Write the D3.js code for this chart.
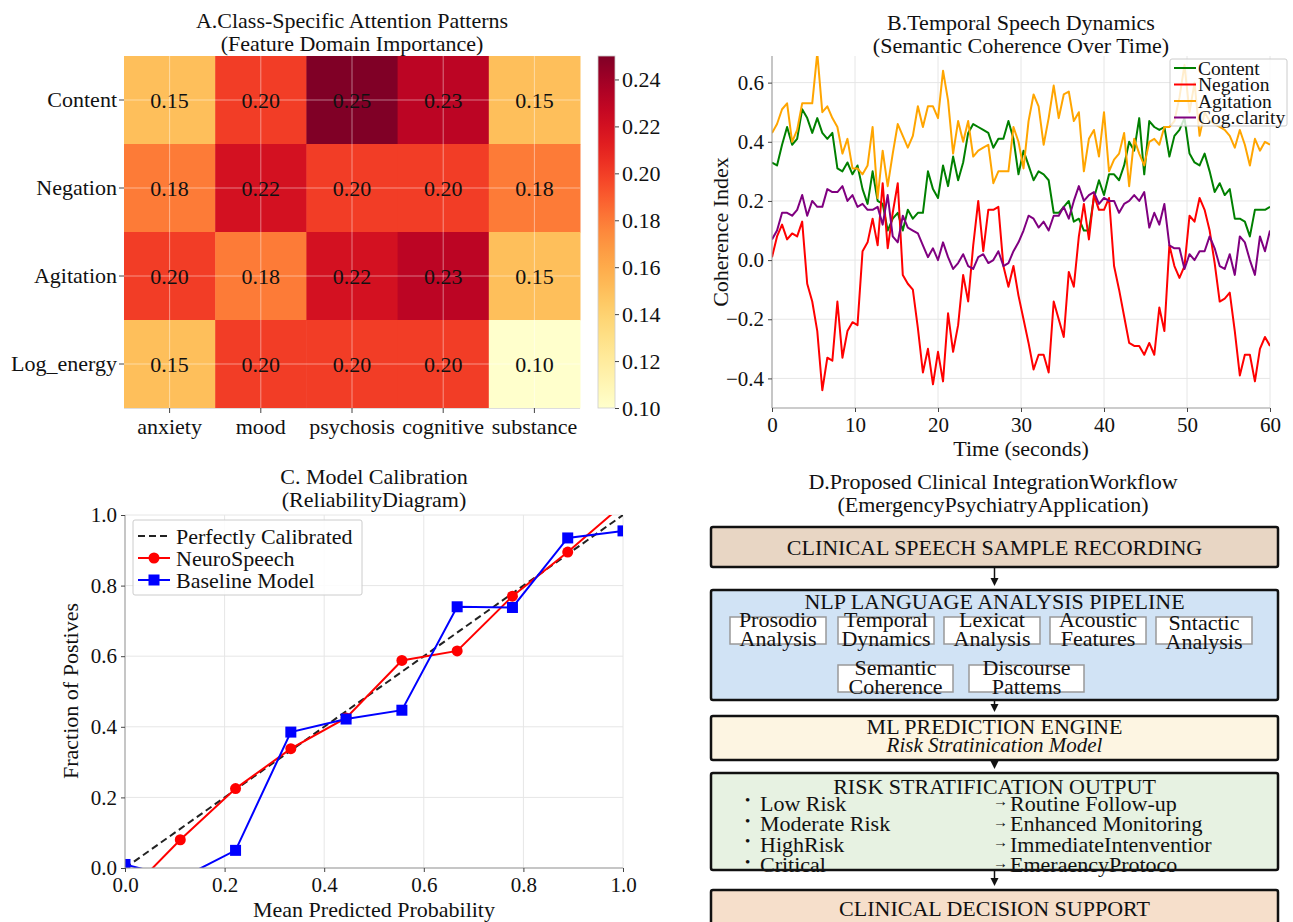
<!DOCTYPE html>
<html>
<head>
<meta charset="utf-8">
<script src="https://cdn.jsdelivr.net/npm/d3@7"></script>
<style>
  body { margin: 0; background: #fff; }
  text { font-family: "Liberation Serif", "Times New Roman", serif; fill: #111; }
</style>
</head>
<body>
<svg id="fig" width="1293" height="922"></svg>
<script>
// ---- data ----

// A: attention heatmap
const domains = ["Content", "Negation", "Agitation", "Log_energy"];
const classes = ["anxiety", "mood", "psychosis", "cognitive", "substance"];
const attention = [
  [0.15, 0.20, 0.25, 0.23, 0.15],
  [0.18, 0.22, 0.20, 0.20, 0.18],
  [0.20, 0.18, 0.22, 0.23, 0.15],
  [0.15, 0.20, 0.20, 0.20, 0.10]
];
const colorbarTicks = [0.10, 0.12, 0.14, 0.16, 0.18, 0.20, 0.22, 0.24];

// B: coherence over time (100 samples over 60 s)
const timeMax = 60;
const contentSeries = [
  0.33,0.32,0.39,0.45,0.39,0.41,0.51,0.48,0.43,0.48,
  0.43,0.41,0.43,0.31,0.30,0.33,0.29,0.32,0.24,0.19,
  0.30,0.20,0.19,0.10,0.14,0.16,0.10,0.17,0.14,0.16,
  0.16,0.30,0.24,0.21,0.32,0.25,0.35,0.27,0.33,0.43,
  0.46,0.45,0.44,0.43,0.38,0.41,0.41,0.47,0.41,0.29,
  0.37,0.32,0.27,0.30,0.29,0.27,0.16,0.16,0.18,0.20,
  0.13,0.14,0.10,0.10,0.21,0.27,0.22,0.29,0.29,0.27,
  0.32,0.40,0.37,0.48,0.29,0.47,0.45,0.44,0.45,0.35,
  0.42,0.44,0.48,0.36,0.33,0.32,0.36,0.30,0.23,0.26,
  0.22,0.24,0.14,0.14,0.13,0.08,0.17,0.17,0.17,0.18
];
const negationSeries = [
  0.01,0.08,0.12,0.07,0.09,0.08,0.13,-0.08,-0.14,-0.24,
  -0.44,-0.33,-0.34,-0.14,-0.33,-0.24,-0.21,-0.22,0.03,0.06,
  0.14,0.05,0.26,0.04,0.16,0.26,-0.05,-0.08,-0.10,-0.23,
  -0.38,-0.30,-0.42,-0.31,-0.41,-0.18,-0.31,-0.22,-0.05,-0.14,
  0.05,0.20,0.03,0.17,0.17,0.18,-0.02,-0.09,-0.02,-0.12,
  -0.20,-0.28,-0.37,-0.32,-0.32,-0.38,-0.14,-0.20,-0.26,-0.04,
  -0.09,0.08,0.19,0.07,0.22,0.17,0.17,0.21,-0.02,-0.10,
  -0.19,-0.28,-0.29,-0.29,-0.32,-0.28,-0.32,-0.16,-0.24,0.05,
  -0.02,-0.06,-0.02,0.15,0.13,0.21,0.17,0.10,-0.01,-0.14,
  -0.13,-0.11,-0.24,-0.39,-0.32,-0.32,-0.41,-0.30,-0.26,-0.29
];
const agitationSeries = [
  0.43,0.46,0.51,0.53,0.40,0.44,0.53,0.53,0.53,0.70,
  0.50,0.52,0.48,0.45,0.36,0.41,0.31,0.31,0.29,0.32,
  0.45,0.21,0.37,0.25,0.36,0.46,0.42,0.38,0.42,0.52,
  0.45,0.52,0.52,0.48,0.64,0.54,0.36,0.47,0.40,0.47,
  0.35,0.37,0.38,0.39,0.26,0.30,0.30,0.30,0.45,0.40,
  0.31,0.47,0.56,0.52,0.39,0.48,0.59,0.48,0.56,0.57,
  0.47,0.50,0.30,0.41,0.44,0.35,0.50,0.30,0.34,0.36,
  0.43,0.25,0.41,0.36,0.32,0.40,0.41,0.39,0.45,0.45,
  0.47,0.55,0.66,0.50,0.60,0.42,0.50,0.47,0.46,0.45,
  0.44,0.42,0.38,0.44,0.39,0.32,0.41,0.37,0.40,0.39
];
const claritySeries = [
  0.07,0.10,0.16,0.16,0.15,0.17,0.22,0.15,0.20,0.18,
  0.18,0.24,0.23,0.23,0.25,0.20,0.22,0.18,0.19,0.17,
  0.17,0.18,0.12,0.22,0.08,0.06,0.15,0.11,0.10,0.09,
  0.05,0.01,0.04,0.00,0.06,0.01,-0.03,-0.01,0.02,-0.02,
  -0.03,0.01,0.02,-0.01,0.00,0.03,-0.02,-0.01,0.03,0.06,
  0.10,0.15,0.14,0.11,0.13,0.10,0.15,0.15,0.18,0.14,
  0.20,0.25,0.20,0.22,0.23,0.19,0.21,0.20,0.20,0.16,
  0.19,0.20,0.22,0.20,0.23,0.11,0.16,0.12,0.19,0.05,
  0.04,0.04,-0.03,0.02,0.00,0.03,0.03,0.08,0.04,-0.02,
  -0.03,0.02,-0.05,0.08,0.06,0.00,-0.05,0.08,0.03,0.10
];
const seriesNames = ["Content", "Negation", "Agitation", "Cog.clarity"];
const seriesColors = ["#008000", "#ff0000", "#ffa500", "#800080"];
const timeTicks = [0, 10, 20, 30, 40, 50, 60];
const coherenceTicks = [-0.4, -0.2, 0.0, 0.2, 0.4, 0.6];

// C: reliability diagram
const binCenters = [0.0, 0.111, 0.222, 0.333, 0.444, 0.556, 0.667, 0.778, 0.889, 1.0];
const neuroSpeech = [-0.08, 0.08, 0.225, 0.338, 0.425, 0.588, 0.615, 0.77, 0.895, 1.03];
const baseline = [0.01, -0.03, 0.05, 0.385, 0.422, 0.447, 0.74, 0.738, 0.935, 0.955];
const calibTicks = [0.0, 0.2, 0.4, 0.6, 0.8, 1.0];

// D: workflow
const stageTitles = [
  "CLINICAL SPEECH SAMPLE RECORDING",
  "NLP LANGUAGE ANALYSIS PIPELINE",
  "ML PREDICTION ENGINE",
  "RISK STRATIFICATION OUTPUT",
  "CLINICAL DECISION SUPPORT"
];
const nlpFeatures = [
  ["Prosodio", "Analysis"], ["Temporal", "Dynamics"], ["Lexicat", "Analysis"],
  ["Acoustic", "Features"], ["Sntactic", "Analysis"],
  ["Semantic", "Coherence"], ["Discourse", "Pattems"]
];
const mlSubtitle = "Risk Stratinication Model";
const riskLevels = ["Low Risk", "Moderate Risk", "HighRisk", "Critical"];
const riskActions = ["Routine Follow-up", "Enhanced Monitoring", "ImmediateIntenventior", "EmeraencyProtoco"];

// ---- drawing ----
const FS = 22;      // main text size
const TICK = 21;    // tick label size
const svg = d3.select("#fig");
svg.append("rect").attr("width", 1293).attr("height", 922).attr("fill", "#fff");
const defs = svg.append("defs");

function twoLineTitle(cx, y1, lines) {
  lines.forEach((t, i) => {
    svg.append("text").attr("x", cx).attr("y", y1 + i * 23)
      .attr("text-anchor", "middle").attr("dominant-baseline", "central")
      .attr("font-size", FS).text(t);
  });
}

function styleAxis(g, fs) {
  g.select(".domain").remove();
  g.selectAll(".tick line").attr("stroke", "#444").attr("stroke-width", 1);
  g.selectAll(".tick text").attr("font-size", fs).attr("fill", "#111")
    .style("font-family", '"Liberation Serif","Times New Roman",serif');
}

// ---------- Panel A ----------
const hx = d3.scaleBand().domain(classes).range([124, 580]);
const hy = d3.scaleBand().domain(domains).range([56, 408]);
const heat = d3.scaleSequential(d3.interpolateYlOrRd).domain([0.10, 0.25]);

const cells = [];
domains.forEach((d, r) => classes.forEach((c, k) => cells.push({ d, c, v: attention[r][k] })));

const gA = svg.append("g");
gA.selectAll("rect.cell").data(cells).join("rect")
  .attr("x", d => hx(d.c)).attr("y", d => hy(d.d))
  .attr("width", hx.bandwidth() + 0.5).attr("height", hy.bandwidth() + 0.5)
  .attr("fill", d => heat(d.v));

// faint grid through cell centres
gA.selectAll("line.gx").data(classes).join("line")
  .attr("x1", d => hx(d) + hx.bandwidth() / 2).attr("x2", d => hx(d) + hx.bandwidth() / 2)
  .attr("y1", 56).attr("y2", 408).attr("stroke", "rgba(255,255,255,0.45)");
gA.selectAll("line.gy").data(domains).join("line")
  .attr("y1", d => hy(d) + hy.bandwidth() / 2).attr("y2", d => hy(d) + hy.bandwidth() / 2)
  .attr("x1", 124).attr("x2", 580).attr("stroke", "rgba(255,255,255,0.45)");
gA.append("line").attr("x1", 124).attr("x2", 580).attr("y1", 408.5).attr("y2", 408.5).attr("stroke", "#ddd");

gA.selectAll("text.val").data(cells).join("text")
  .attr("x", d => hx(d.c) + hx.bandwidth() / 2).attr("y", d => hy(d.d) + hy.bandwidth() / 2)
  .attr("text-anchor", "middle").attr("dominant-baseline", "central")
  .attr("font-size", FS).text(d => d3.format(".2f")(d.v));

styleAxis(svg.append("g").attr("transform", "translate(124,0)")
  .call(d3.axisLeft(hy).tickSize(5).tickPadding(2)), FS);
styleAxis(svg.append("g").attr("transform", "translate(0,408)")
  .call(d3.axisBottom(hx).tickSize(5).tickPadding(5)), FS);

// colorbar
const cbScale = d3.scaleLinear().domain([0.10, 0.25]).range([408, 56]);
const grad = defs.append("linearGradient").attr("id", "cbGrad")
  .attr("x1", 0).attr("y1", 1).attr("x2", 0).attr("y2", 0);
d3.range(0, 1.0001, 0.05).forEach(t => {
  grad.append("stop").attr("offset", t).attr("stop-color", d3.interpolateYlOrRd(t));
});
svg.append("rect").attr("x", 598).attr("y", 56).attr("width", 17).attr("height", 352)
  .attr("fill", "url(#cbGrad)").attr("stroke", "#ccc").attr("stroke-width", 0.8);
styleAxis(svg.append("g").attr("transform", "translate(615,0)")
  .call(d3.axisRight(cbScale).tickValues(colorbarTicks).tickFormat(d3.format(".2f")).tickSize(4).tickPadding(3)), FS);

twoLineTitle(352, 20, ["A.Class-Specific Attention Patterns", "(Feature Domain Importance)"]);

// ---------- Panel B ----------
const bx = d3.scaleLinear().domain([0, timeMax]).range([772, 1270]);
const by = d3.scaleLinear().domain([-0.5, 0.69]).range([408, 56]);
const gB = svg.append("g");

gB.selectAll("line.vx").data(timeTicks).join("line")
  .attr("x1", d => bx(d)).attr("x2", d => bx(d)).attr("y1", 56).attr("y2", 408)
  .attr("stroke", "#e6e6e6");
gB.selectAll("line.hy").data(coherenceTicks).join("line")
  .attr("y1", d => by(d)).attr("y2", d => by(d)).attr("x1", 772).attr("x2", 1270)
  .attr("stroke", "#e6e6e6");

defs.append("clipPath").attr("id", "clipB").append("rect")
  .attr("x", 772).attr("y", 56).attr("width", 498).attr("height", 352);

const allSeries = [contentSeries, negationSeries, agitationSeries, claritySeries];
const step = timeMax / (contentSeries.length - 1);
const lineB = d3.line().x((d, i) => bx(i * step)).y(d => by(d));
gB.append("g").attr("clip-path", "url(#clipB)")
  .selectAll("path").data(allSeries).join("path")
  .attr("d", lineB).attr("fill", "none")
  .attr("stroke", (d, i) => seriesColors[i]).attr("stroke-width", 2)
  .attr("stroke-linejoin", "round");

gB.append("line").attr("x1", 772).attr("x2", 772).attr("y1", 56).attr("y2", 408).attr("stroke", "#999");
gB.append("line").attr("x1", 772).attr("x2", 1270).attr("y1", 408).attr("y2", 408).attr("stroke", "#999");

styleAxis(svg.append("g").attr("transform", "translate(772,0)")
  .call(d3.axisLeft(by).tickValues(coherenceTicks).tickFormat(d3.format(".1f")).tickSize(4).tickPadding(4)), TICK);
styleAxis(svg.append("g").attr("transform", "translate(0,408)")
  .call(d3.axisBottom(bx).tickValues(timeTicks).tickSize(4).tickPadding(5)), TICK);

svg.append("text").attr("x", 1021).attr("y", 448).attr("text-anchor", "middle")
  .attr("dominant-baseline", "central").attr("font-size", FS).text("Time (seconds)");
svg.append("text").attr("transform", "translate(720,232) rotate(-90)").attr("text-anchor", "middle")
  .attr("dominant-baseline", "central").attr("font-size", FS).text("Coherence Index");
twoLineTitle(1021, 22, ["B.Temporal Speech Dynamics", "(Semantic Coherence Over Time)"]);

const legB = svg.append("g").attr("transform", "translate(1170,59)");
legB.append("rect").attr("width", 117).attr("height", 67).attr("rx", 2)
  .attr("fill", "rgba(255,255,255,0.8)").attr("stroke", "#ccc");
seriesNames.forEach((n, i) => {
  const yy = 9 + i * 16.5;
  legB.append("line").attr("x1", 4).attr("x2", 26).attr("y1", yy).attr("y2", yy)
    .attr("stroke", seriesColors[i]).attr("stroke-width", 2);
  legB.append("text").attr("x", 28).attr("y", yy).attr("dominant-baseline", "central")
    .attr("font-size", 19.5).text(n);
});

// ---------- Panel C ----------
const cx = d3.scaleLinear().domain([0, 1]).range([125, 623]);
const cy = d3.scaleLinear().domain([0, 1]).range([868, 515]);
const gC = svg.append("g");
gC.selectAll("line.vx").data(calibTicks).join("line")
  .attr("x1", d => cx(d)).attr("x2", d => cx(d)).attr("y1", 515).attr("y2", 868).attr("stroke", "#e6e6e6");
gC.selectAll("line.hy").data(calibTicks).join("line")
  .attr("y1", d => cy(d)).attr("y2", d => cy(d)).attr("x1", 125).attr("x2", 623).attr("stroke", "#e6e6e6");

defs.append("clipPath").attr("id", "clipC").append("rect")
  .attr("x", 125).attr("y", 515).attr("width", 498).attr("height", 353);
const plotC = gC.append("g").attr("clip-path", "url(#clipC)");

plotC.append("line").attr("x1", cx(0)).attr("y1", cy(0)).attr("x2", cx(1)).attr("y2", cy(1))
  .attr("stroke", "#222").attr("stroke-width", 2).attr("stroke-dasharray", "7,4");

const lineC = d3.line().x((d, i) => cx(binCenters[i])).y(d => cy(d));
plotC.append("path").attr("d", lineC(neuroSpeech)).attr("fill", "none")
  .attr("stroke", "#ff0000").attr("stroke-width", 2);
plotC.selectAll("circle").data(neuroSpeech).join("circle")
  .attr("cx", (d, i) => cx(binCenters[i])).attr("cy", d => cy(d)).attr("r", 5.5).attr("fill", "#ff0000");
plotC.append("path").attr("d", lineC(baseline)).attr("fill", "none")
  .attr("stroke", "#0000ff").attr("stroke-width", 2);
plotC.selectAll("rect.sq").data(baseline).join("rect")
  .attr("x", (d, i) => cx(binCenters[i]) - 5.5).attr("y", d => cy(d) - 5.5)
  .attr("width", 11).attr("height", 11).attr("fill", "#0000ff");

gC.append("line").attr("x1", 125).attr("x2", 125).attr("y1", 515).attr("y2", 868).attr("stroke", "#999");
gC.append("line").attr("x1", 125).attr("x2", 623).attr("y1", 868).attr("y2", 868).attr("stroke", "#999");

styleAxis(svg.append("g").attr("transform", "translate(125,0)")
  .call(d3.axisLeft(cy).tickValues(calibTicks).tickFormat(d3.format(".1f")).tickSize(4).tickPadding(4)), TICK);
styleAxis(svg.append("g").attr("transform", "translate(0,868)")
  .call(d3.axisBottom(cx).tickValues(calibTicks).tickFormat(d3.format(".1f")).tickSize(4).tickPadding(5)), TICK);

svg.append("text").attr("x", 374).attr("y", 909).attr("text-anchor", "middle")
  .attr("dominant-baseline", "central").attr("font-size", FS).text("Mean Predicted Probability");
svg.append("text").attr("transform", "translate(70,691) rotate(-90)").attr("text-anchor", "middle")
  .attr("dominant-baseline", "central").attr("font-size", FS).text("Fraction of Postives");
twoLineTitle(374, 476, ["C. Model Calibration", "(ReliabilityDiagram)"]);

const legC = svg.append("g").attr("transform", "translate(133,520)");
legC.append("rect").attr("width", 229).attr("height", 75).attr("rx", 2)
  .attr("fill", "rgba(255,255,255,0.85)").attr("stroke", "#ccc");
const legCItems = ["Perfectly Calibrated", "NeuroSpeech", "Baseline Model"];
legCItems.forEach((n, i) => {
  const yy = 16 + i * 22;
  const ln = legC.append("line").attr("x1", 5).attr("x2", 37).attr("y1", yy).attr("y2", yy).attr("stroke-width", 2);
  if (i === 0) ln.attr("stroke", "#222").attr("stroke-dasharray", "7,4");
  if (i === 1) {
    ln.attr("stroke", "#ff0000");
    legC.append("circle").attr("cx", 21).attr("cy", yy).attr("r", 5.5).attr("fill", "#ff0000");
  }
  if (i === 2) {
    ln.attr("stroke", "#0000ff");
    legC.append("rect").attr("x", 15.5).attr("y", yy - 5.5).attr("width", 11).attr("height", 11).attr("fill", "#0000ff");
  }
  legC.append("text").attr("x", 43).attr("y", yy).attr("dominant-baseline", "central")
    .attr("font-size", FS).text(n);
});

// ---------- Panel D ----------
twoLineTitle(993, 481, ["D.Proposed Clinical IntegrationWorkflow", "(EmergencyPsychiatryApplication)"]);
const gD = svg.append("g");
const boxX = 711, boxW = 567, midX = boxX + boxW / 2;
const stageTop = [527, 590, 716, 773, 890];
const stageH = [40, 110, 44, 97, 45];
const stageTextY = [547, 601, 726, 786, 908];
const stageFill = ["#e8d6c4", "#d1e3f5", "#fdf5e2", "#e7f2e2", "#f6dfcb"];

stageTitles.forEach((t, i) => {
  gD.append("rect").attr("x", boxX).attr("y", stageTop[i]).attr("width", boxW).attr("height", stageH[i])
    .attr("rx", 2).attr("fill", stageFill[i]).attr("stroke", "#111").attr("stroke-width", 2.5);
  gD.append("text").attr("x", midX).attr("y", stageTextY[i]).attr("text-anchor", "middle")
    .attr("dominant-baseline", "central").attr("font-size", FS).text(t);
  if (i < stageTitles.length - 1) {
    const y0 = stageTop[i] + stageH[i], y1 = stageTop[i + 1];
    gD.append("line").attr("x1", midX).attr("x2", midX).attr("y1", y0).attr("y2", y1 - 10)
      .attr("stroke", "#111").attr("stroke-width", 1.5);
    gD.append("path").attr("d", `M${midX - 4},${y1 - 12} L${midX + 4},${y1 - 12} L${midX},${y1 - 4} Z`)
      .attr("fill", "#111");
  }
});

// NLP feature sub-boxes
const featX = [730, 838, 944, 1050, 1156, 838, 969];
const featW = [96, 96, 96, 96, 96, 115, 115];
const featY = [617, 617, 617, 617, 617, 665, 665];
nlpFeatures.forEach((f, i) => {
  gD.append("rect").attr("x", featX[i]).attr("y", featY[i]).attr("width", featW[i]).attr("height", 27)
    .attr("fill", "#fff").attr("stroke", "#999").attr("stroke-width", 1.5);
  const off = i === 4 ? 3 : 0;
  f.forEach((ln, k) => {
    gD.append("text").attr("x", featX[i] + featW[i] / 2).attr("y", featY[i] + 2 + off + k * 19)
      .attr("text-anchor", "middle").attr("dominant-baseline", "central")
      .attr("font-size", FS).text(ln);
  });
});

gD.append("text").attr("x", midX).attr("y", 745).attr("text-anchor", "middle")
  .attr("dominant-baseline", "central").attr("font-size", FS - 1).attr("font-style", "italic").text(mlSubtitle);

riskLevels.forEach((r, i) => {
  const yy = 803 + i * 20.5;
  gD.append("text").attr("x", 745).attr("y", yy - 3).attr("dominant-baseline", "central")
    .attr("font-size", 15).text("•");
  gD.append("text").attr("x", 760).attr("y", yy).attr("dominant-baseline", "central")
    .attr("font-size", FS).text(r);
  gD.append("text").attr("x", 993).attr("y", yy - 2).attr("dominant-baseline", "central")
    .attr("font-size", 15).attr("font-family", "DejaVu Sans").text("→");
  gD.append("text").attr("x", 1010).attr("y", yy).attr("dominant-baseline", "central")
    .attr("font-size", FS).text(riskActions[i]);
});
</script>
</body>
</html>
